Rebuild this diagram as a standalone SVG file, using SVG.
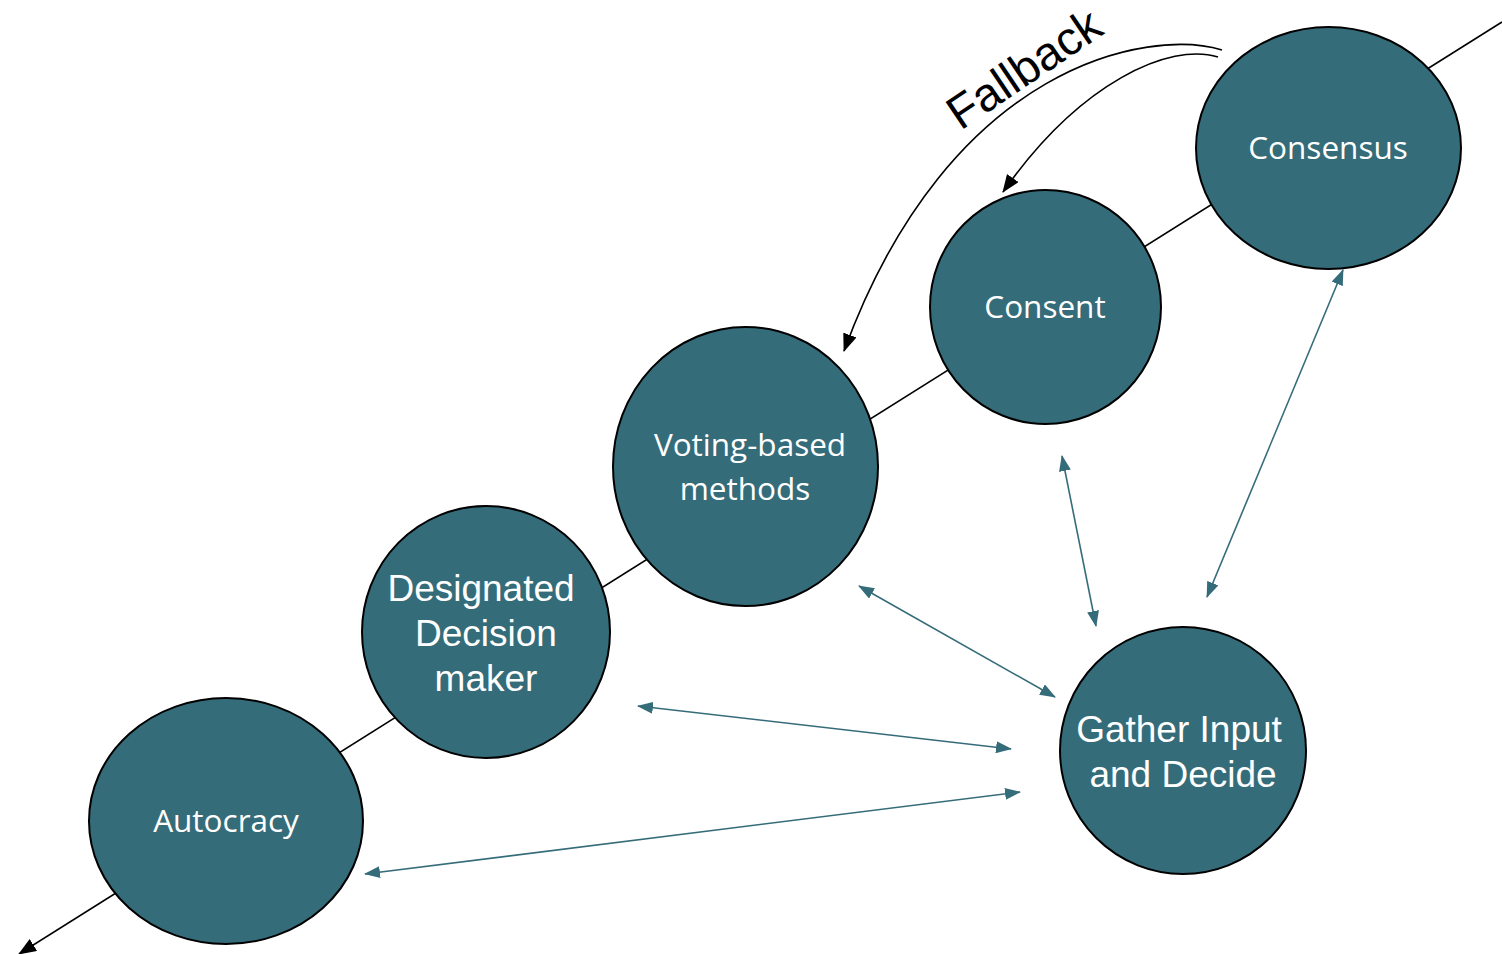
<svg xmlns="http://www.w3.org/2000/svg" width="1502" height="954" viewBox="0 0 1502 954">
<style>
.node{fill:#356c7a;stroke:#000;stroke-width:2}
.lbl{fill:#fff;font-family:"Open Sans","Noto Sans",sans-serif;font-size:31.5px;text-anchor:middle}
.lbl2{fill:#fff;font-family:"Liberation Sans",Arial,sans-serif;font-size:37px;text-anchor:middle}
.teal{stroke:#356c7a;stroke-width:1.6;fill:none;marker-start:url(#ta);marker-end:url(#ta)}
.blk{stroke:#000;stroke-width:1.6;fill:none;marker-end:url(#ba)}
</style>
<defs>
<marker id="ta" viewBox="0 0 16 12" refX="15" refY="6" markerWidth="16" markerHeight="12" markerUnits="userSpaceOnUse" orient="auto-start-reverse"><path d="M0,0 L16,6 L0,12 z" fill="#356c7a"/></marker>
<marker id="ba" viewBox="0 0 18 14" refX="17" refY="7" markerWidth="18" markerHeight="14" markerUnits="userSpaceOnUse" orient="auto"><path d="M0,0 L18,7 L0,14 z" fill="#000"/></marker>
</defs>
<rect width="1502" height="954" fill="#fff"/>
<g id="connectors">
<path class="blk" d="M1502,22 L19,954"/>
<path class="blk" d="M1222,50 C1150,28 950,62 844,351"/>
<path class="blk" d="M1218,57 C1170,42 1080,82 1003,192"/>
<path class="teal" d="M1062,456 L1096,626"/>
<path class="teal" d="M1343,270 L1207,597"/>
<path class="teal" d="M859,586 L1055,697"/>
<path class="teal" d="M638,706 L1011,749"/>
<path class="teal" d="M365,874 L1020,792"/>
</g>
<g id="consensus"><ellipse class="node" cx="1328.5" cy="148" rx="132.5" ry="121"/><text class="lbl" x="1328" y="159" font-size="31">Consensus</text></g>
<g id="consent"><ellipse class="node" cx="1045.5" cy="307" rx="115.5" ry="117"/><text class="lbl" x="1045" y="318">Consent</text></g>
<g id="voting"><ellipse class="node" cx="745.5" cy="466.5" rx="132.5" ry="139.5"/><text class="lbl" x="750" y="456">Voting-based</text><text class="lbl" x="745" y="500">methods</text></g>
<g id="designated"><ellipse class="node" cx="486" cy="632" rx="124" ry="126"/><text class="lbl2" x="481" y="601">Designated</text><text class="lbl2" x="486" y="646">Decision</text><text class="lbl2" x="486" y="691">maker</text></g>
<g id="autocracy"><ellipse class="node" cx="226" cy="821" rx="137" ry="123"/><text class="lbl" x="226" y="832">Autocracy</text></g>
<g id="gather"><ellipse class="node" cx="1183" cy="750.5" rx="123" ry="123.5"/><text class="lbl2" x="1179" y="742">Gather Input</text><text class="lbl2" x="1183" y="787">and Decide</text></g>
<text x="1033" y="82" transform="rotate(-34 1033 82)" font-family="Liberation Sans, Arial, sans-serif" font-size="47" text-anchor="middle" fill="#000">Fallback</text>
</svg>
